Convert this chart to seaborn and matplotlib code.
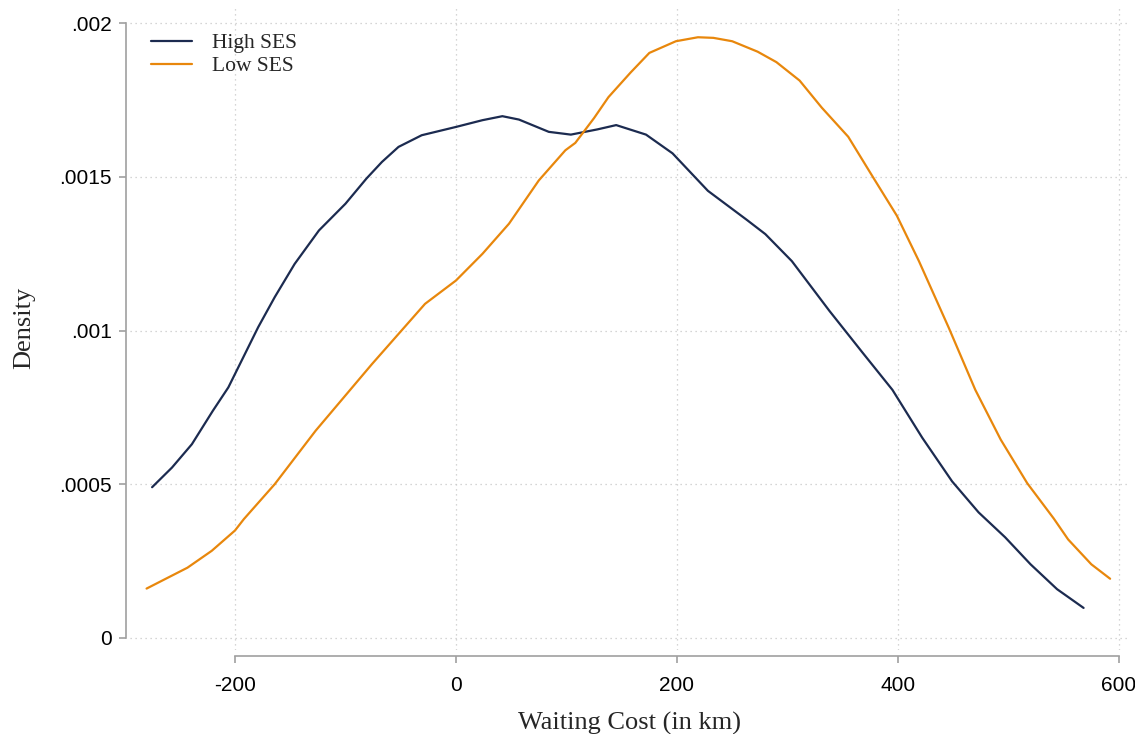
import matplotlib
matplotlib.use("Agg")
import matplotlib.pyplot as plt
import seaborn as sns
import pandas as pd

sns.set_theme(style="white")
plt.rcParams["axes.unicode_minus"] = False

# Density curves (y in units of 0.001)
high_x = [-275, -257, -239, -220, -206, -194, -179, -164, -146, -124, -100, -81, -67, -52, -31,
          0, 24, 42, 57, 84, 104, 128, 145, 172, 196, 228, 263, 280, 304, 338, 368, 395,
          422, 449, 473, 497, 520, 544, 568]
high_y = [0.490, 0.554, 0.630, 0.739, 0.815, 0.902, 1.011, 1.109, 1.217, 1.326, 1.413, 1.495,
          1.549, 1.598, 1.636, 1.663, 1.685, 1.698, 1.687, 1.647, 1.638, 1.655, 1.669, 1.638,
          1.577, 1.455, 1.361, 1.314, 1.226, 1.064, 0.928, 0.807, 0.651, 0.509, 0.408, 0.327,
          0.239, 0.158, 0.097]

low_x = [-280, -243, -221, -200, -192, -164, -127, -76, -28, 0, 24, 48, 75, 99, 108, 125, 138,
         158, 175, 199, 219, 233, 250, 273, 290, 311, 331, 355, 378, 399, 419, 446, 470, 493,
         517, 541, 554, 575, 592]
low_y = [0.160, 0.228, 0.283, 0.349, 0.386, 0.500, 0.674, 0.891, 1.087, 1.163, 1.250, 1.348,
         1.489, 1.587, 1.611, 1.692, 1.760, 1.840, 1.904, 1.942, 1.955, 1.953, 1.942, 1.908,
         1.874, 1.814, 1.726, 1.631, 1.496, 1.374, 1.226, 1.009, 0.807, 0.645, 0.503, 0.388,
         0.320, 0.239, 0.192]

groups = ["High SES", "Low SES"]
colors = ["#1c2b50", "#e8870c"]

x_ticks = [-200, 0, 200, 400, 600]
y_ticks = [0, 0.0005, 0.001, 0.0015, 0.002]
y_tick_labels = ["0", ".0005", ".001", ".0015", ".002"]

df = pd.concat([
    pd.DataFrame({"x": high_x, "y": [v / 1000 for v in high_y], "group": groups[0]}),
    pd.DataFrame({"x": low_x, "y": [v / 1000 for v in low_y], "group": groups[1]}),
])

fig = plt.figure(figsize=(11.35, 7.34), dpi=100)
ax = fig.add_axes([130 / 1135, 84 / 734, 1000 / 1135, 645 / 734])

sns.lineplot(data=df, x="x", y="y", hue="group", palette=colors, hue_order=groups,
             estimator=None, linewidth=1.6, ax=ax)

ax.set_xlim(-295, 610)
ax.set_ylim(-0.00004, 0.00206)

ax.set_xticks(x_ticks)
ax.set_yticks(y_ticks)
ax.set_yticklabels(y_tick_labels)

ax.grid(True, color="#c8c8c8", linestyle=(0, (1, 3)), linewidth=0.9)

for side in ["top", "right"]:
    ax.spines[side].set_visible(False)
ax.spines["left"].set_position(("outward", 3))
ax.spines["left"].set_bounds(0, 0.002)
ax.spines["bottom"].set_position(("outward", 4))
ax.spines["bottom"].set_bounds(-200, 600)
for side in ["left", "bottom"]:
    ax.spines[side].set_color("#a0a0a0")
    ax.spines[side].set_linewidth(1.2)
ax.tick_params(axis="both", which="both", length=5, width=1.2, color="#a0a0a0",
               direction="out", left=True, bottom=True, pad=5, labelcolor="black",
               labelsize=15, labelfontfamily="Liberation Sans")
ax.tick_params(axis="x", pad=10)

ax.set_xlabel("Waiting Cost (in km)", family="Liberation Serif", fontsize=19, labelpad=12)
ax.set_ylabel("Density", family="Liberation Serif", fontsize=19, labelpad=17)

handles, labels = ax.get_legend_handles_labels()
ax.legend(handles, labels, loc="upper left", bbox_to_anchor=(132 / 1135, 1 - 14 / 734),
          bbox_transform=fig.transFigure, frameon=False, handlelength=1.9,
          handletextpad=0.9, labelspacing=0.12, prop={"family": "Liberation Serif", "size": 15.5})

fig.savefig("out.png", dpi=100)
plt.close()
